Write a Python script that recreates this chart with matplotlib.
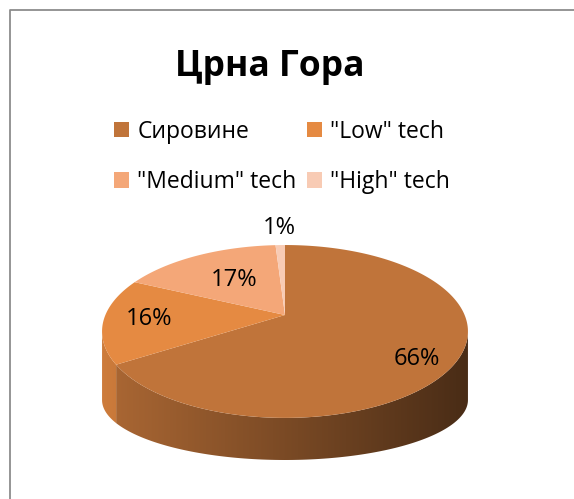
import numpy as np
import matplotlib
matplotlib.use("Agg")
import matplotlib.pyplot as plt
from matplotlib.patches import Polygon, Patch

# data
categories = ["Сировине", '"Low" tech', '"Medium" tech', '"High" tech']
shares = [66, 16, 17, 1]
colors = ["#C0743A", "#E58A42", "#F4A778", "#F8CBB4"]
title = "Црна Гора"

# layout of the 3d pie (pixels, figure is 574x499)
W, H = 574, 499
CX = 285.0
A = 179.6           # horizontal radius
PERSP = 5.25        # perspective strength
TOP_CY, TOP_C = 315.0, 83.3
BOT_CY, BOT_C = 388.6, 57.8
label_r = [0.78, 0.75, 0.55, 1.25]
label_dy = [10, 0, 0, -3]

plt.rcParams["font.family"] = ["Open Sans", "DejaVu Sans"]


def rim(theta, r, cy, c):
    t = np.radians(theta)
    x = r * np.sin(t)
    z = -r * np.cos(t)
    s = PERSP / (PERSP - z)
    return CX + A * x * s, cy + c * z * s


fig = plt.figure(figsize=(W / 100, H / 100), dpi=100)
ax = fig.add_axes([0, 0, 1, 1])
ax.set_xlim(0, W)
ax.set_ylim(H, 0)
ax.axis("off")

# chart frame (only left / top edges visible)
ax.plot([10, 10, W + 5], [H + 5, 10, 10], color="#8C8C8C", lw=1.3)

frac = np.array(shares, dtype=float) / sum(shares)
ends = np.cumsum(frac) * 360
starts = ends - frac * 360

# side of the pie, visible front part only
z_ext = 1.0 / PERSP
vis0 = np.degrees(np.arccos(-z_ext))      # right silhouette
vis1 = 360 - vis0                          # left silhouette
gx = np.linspace(95, 475, 400)
shade = np.clip(0.90 - 0.52 * (gx - 100) / 368, 0.3, 1)
for i in range(len(shares)):
    a0, a1 = max(starts[i], vis0), min(ends[i], vis1)
    if a1 <= a0:
        continue
    th = np.linspace(a0, a1, 120)
    tx, ty = rim(th, 1, TOP_CY, TOP_C)
    bx, by = rim(th[::-1], 1, BOT_CY, BOT_C)
    pts = np.column_stack([np.r_[tx, bx], np.r_[ty, by]])
    poly = Polygon(pts, closed=True, facecolor="none", edgecolor="none")
    ax.add_patch(poly)
    base = np.array(matplotlib.colors.to_rgb(colors[i]))
    img = np.clip(shade[None, :, None] * base[None, None, :], 0, 1)
    img = np.repeat(img, 2, axis=0)
    im = ax.imshow(img, extent=(95, 475, 480, 300), aspect="auto",
                   interpolation="bilinear", zorder=2)
    im.set_clip_path(poly)

# top face
for i in range(len(shares)):
    th = np.linspace(starts[i], ends[i], 200)
    x, y = rim(th, 1, TOP_CY, TOP_C)
    ax.fill(np.r_[CX, x], np.r_[TOP_CY, y], color=colors[i], lw=0, zorder=3)

# labels
for i in range(len(shares)):
    mid = (starts[i] + ends[i]) / 2
    lx, ly = rim(mid, label_r[i], TOP_CY, TOP_C)
    ax.text(lx, ly + label_dy[i], f"{shares[i]}%", fontsize=17,
            ha="center", va="center", color="black", zorder=4)

ax.text(270, 76, title, fontsize=25.5, fontweight="bold", ha="center",
        va="baseline")

handles = [Patch(facecolor=c, edgecolor="none") for c in colors]
order = [0, 2, 1, 3]
ax.legend([handles[k] for k in order], [categories[k] for k in order],
          ncol=2, loc="center", bbox_to_anchor=(282 / W, 1 - 157 / H),
          frameon=False, fontsize=16.5, handlelength=0.65, handleheight=0.65,
          handletextpad=0.35, columnspacing=0.45, labelspacing=1.15,
          borderpad=0)

fig.savefig("out.png", dpi=100)
